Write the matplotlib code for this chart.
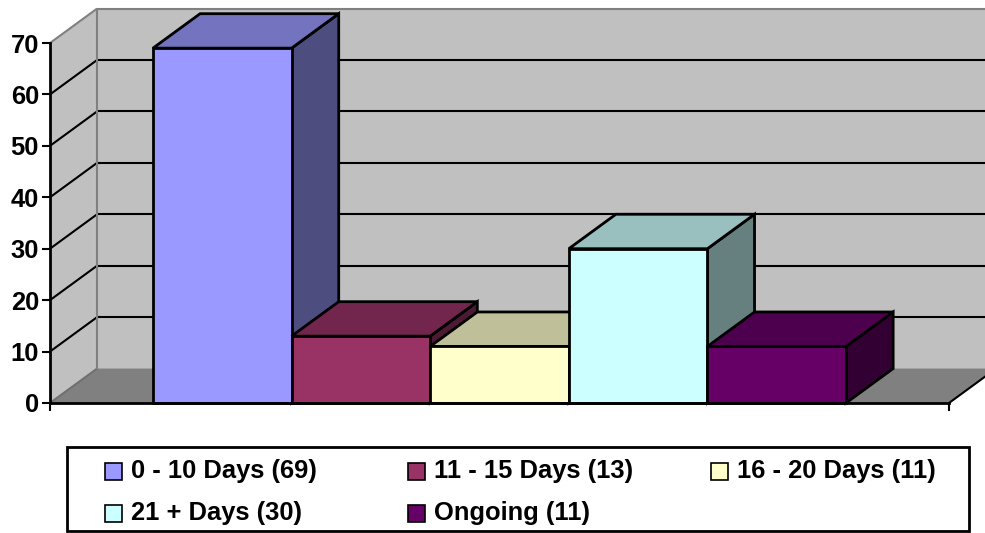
import matplotlib
matplotlib.use("Agg")
import matplotlib.pyplot as plt
from matplotlib.patches import Polygon, Rectangle
from matplotlib.colors import to_rgb

categories = ["0 - 10 Days", "11 - 15 Days", "16 - 20 Days", "21 + Days", "Ongoing"]
counts = [69, 13, 11, 30, 11]
colors = ["#9999FF", "#993366", "#FFFFCC", "#CCFFFF", "#660066"]
y_ticks = [0, 10, 20, 30, 40, 50, 60, 70]

plt.rcParams["font.family"] = ["Liberation Sans", "DejaVu Sans"]
plt.rcParams["font.weight"] = "bold"

W, H = 985, 533
fig = plt.figure(figsize=(W / 100, H / 100), dpi=100)
ax = fig.add_axes([50 / W, 130 / H, 899 / W, 360 / H])
ax.set_facecolor("none")

XL, XR = -1.243, 5.243
YMAX = y_ticks[-1]
ax.set_xlim(XL, XR)
ax.set_ylim(0, YMAX)

# depth of the 3D box, in data units (x: categories, y: values)
DX, DY = 0.34, 6.7
LW = 1.5
BAR_LW = 2.0
WALL = "#C0C0C0"
FLOOR = "#808080"
EDGE = "#808080"
FS = 18.4


def shade(c, f):
    r, g, b = to_rgb(c)
    return (r * f, g * f, b * f)


def poly(pts, fc, ec="black", lw=BAR_LW, z=1):
    ax.add_patch(Polygon(pts, closed=True, facecolor=fc, edgecolor=ec,
                         linewidth=lw, zorder=z, clip_on=False,
                         joinstyle="miter"))


def line(xs, ys, color="black", z=1.5, lw=LW):
    ax.plot(xs, ys, color=color, lw=lw, zorder=z, clip_on=False,
            solid_capstyle="butt")


# back wall and side wall
poly([(XL + DX, DY), (XR + DX, DY), (XR + DX, YMAX + DY), (XL + DX, YMAX + DY)],
     WALL, ec="none", z=0.5)
poly([(XL, 0), (XL, YMAX), (XL + DX, YMAX + DY), (XL + DX, DY)],
     WALL, ec="none", z=0.5)

# gridlines on both walls
for v in y_ticks[1:-1]:
    line([XL + DX, XR + DX], [v + DY, v + DY])
    line([XL, XL + DX], [v, v + DY])

# wall edges
line([XL, XL + DX], [YMAX, YMAX + DY], color=EDGE)
line([XL + DX, XR + DX], [YMAX + DY, YMAX + DY], color=EDGE)
line([XL + DX, XL + DX], [DY, YMAX + DY], color=EDGE)

# floor
poly([(XL, 0), (XR, 0), (XR + DX, DY), (XL + DX, DY)], FLOOR, ec="none", z=0.8)
line([XL, XL + DX], [0, DY], color="#707070", z=0.9)
line([XR, XR + DX], [0, DY], z=0.9)

# bars
for i, (v, c) in enumerate(zip(counts, colors)):
    x0, x1 = i - 0.5, i + 0.5
    z = 2 + i
    poly([(x1, 0), (x1 + DX, DY), (x1 + DX, v + DY), (x1, v)], shade(c, 0.5), z=z)
    poly([(x0, v), (x1, v), (x1 + DX, v + DY), (x0 + DX, v + DY)], shade(c, 0.75), z=z)
    ax.add_patch(Rectangle((x0, 0), 1, v, facecolor=c, edgecolor="black",
                           linewidth=BAR_LW, zorder=z, clip_on=False,
                           joinstyle="miter"))

# axes
for s in ["top", "right"]:
    ax.spines[s].set_visible(False)
for s in ["left", "bottom"]:
    ax.spines[s].set_linewidth(BAR_LW)
    ax.spines[s].set_zorder(20)
ax.set_yticks(y_ticks)
ax.set_yticklabels([str(t) for t in y_ticks], fontsize=FS, fontweight="bold")
ax.tick_params(axis="y", length=6, width=LW, pad=2)
ax.set_xticks([XL, XR])
ax.set_xticklabels([])
ax.tick_params(axis="x", length=6, width=LW)


# legend: boxed, three entries per row
def fx(px):
    return px / W


def fy(py):
    return (H - py) / H


fig.add_artist(Rectangle((fx(67), fy(531)), 902 / W, 84 / H, fill=False,
                         edgecolor="black", linewidth=BAR_LW,
                         transform=fig.transFigure))
col_x = [105, 408, 711]
row_y = [471, 513]
sq = 17
for k, (cat, n, c) in enumerate(zip(categories, counts, colors)):
    x = col_x[k % 3]
    y = row_y[k // 3]
    fig.add_artist(Rectangle((fx(x), fy(y + sq / 2)), sq / W, sq / H,
                             facecolor=c, edgecolor="black", linewidth=1.2,
                             transform=fig.transFigure))
    fig.text(fx(x + sq + 9), fy(y), f"{cat} ({n})", ha="left", va="center",
             fontsize=FS, fontweight="bold")

fig.savefig("out.png", dpi=100)
